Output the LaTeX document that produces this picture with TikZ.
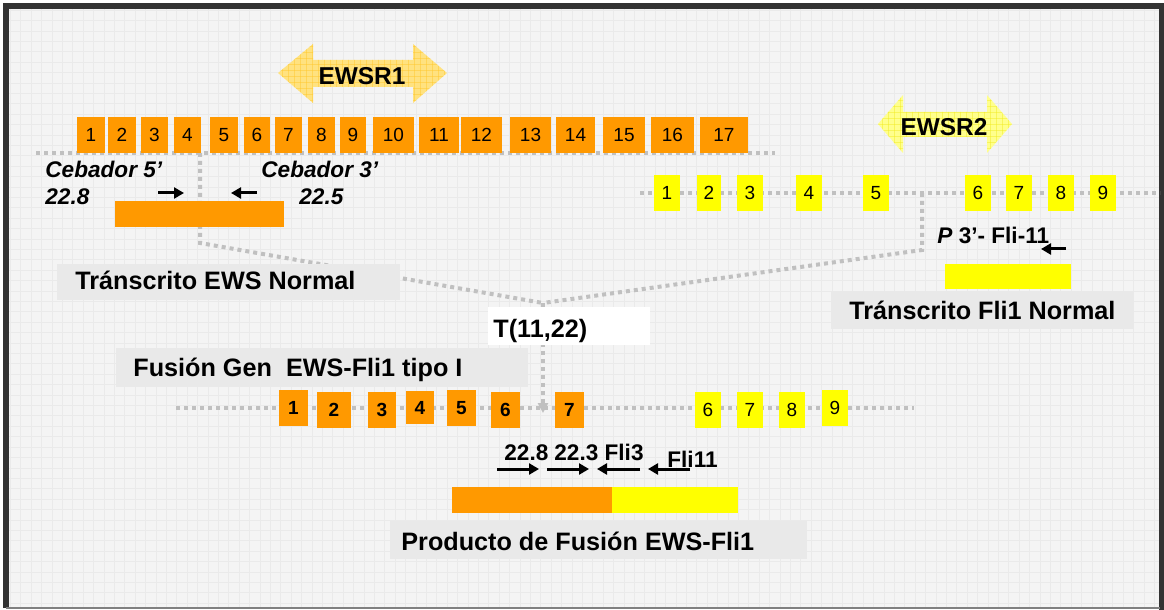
\documentclass[tikz,border=0pt]{standalone}
\usepackage{fontspec}
\setmainfont{Liberation Sans}
\usepackage{xcolor}
\usepackage{tikz}
\usetikzlibrary{positioning, arrows.meta, patterns}
\newcommand{\PixelSize}{0.5pt}

\definecolor{exonorange}{RGB}{255,153,0}
\definecolor{exonyellow}{RGB}{255,255,0}
\definecolor{panelgray}{RGB}{244,244,244}
\definecolor{gridgray}{RGB}{234,234,234}
\definecolor{labelgray}{RGB}{233,233,233}
\definecolor{dotgray}{RGB}{192,192,192}
\definecolor{framegray}{RGB}{51,51,51}
\definecolor{ewsgold}{RGB}{255,226,128}
\definecolor{ewsgoldline}{RGB}{255,198,40}
\definecolor{flilemon}{RGB}{255,255,140}
\definecolor{flilemonline}{RGB}{240,235,30}

\tikzset{
  dotline/.style = {dotgray, line width=2pt, dash pattern=on 2pt off 2pt},
  exonbox/.style = {inner sep=0pt, font=\fontsize{9.5}{10}\selectfont},
  ewsexon/.style = {exonbox, fill=exonorange},
  fliexon/.style = {exonbox, fill=exonyellow},
  boldnum/.style = {font=\fontsize{9.5}{10}\selectfont\bfseries},
  labelbox/.style = {fill=labelgray, inner sep=0pt},
  labeltext/.style = {anchor=base west, inner sep=0pt, font=\fontsize{12.6}{14}\selectfont\bfseries},
  primertext/.style = {anchor=base west, inner sep=0pt, font=\fontsize{11.3}{13}\selectfont\bfseries},
  primer/.style = {line width=1.5pt, -{Triangle[length=5pt, width=5.5pt]}},
  genetext/.style = {inner sep=0pt, font=\fontsize{12.2}{14}\selectfont\bfseries},
  hatch/.style = {pattern=grid, pattern color=#1, opacity=0.45}
}

\begin{document}
\begin{tikzpicture}[x=\PixelSize, y=-\PixelSize]
    \useasboundingbox (0, 0) rectangle (1164, 610);

    % panel, grid and frame
    \fill[panelgray] (9, 9) rectangle (1159, 607);
    \draw[gridgray, line width=0.5pt, step=5.2pt] (9, 607) grid (1159, 9);
    \draw[framegray, line width=3pt] (6, 608) -- (6, 6) -- (1161.5, 6) -- (1161.5, 610);
    \draw[gray, line width=1pt] (6, 608) -- (1160, 608);


    % gene arrows
    \fill[ewsgold] (278, 73) -- (313, 44) -- (313, 60) -- (413, 60) -- (413, 44) -- (447, 73)
        -- (413, 103) -- (413, 87) -- (313, 87) -- (313, 103) -- cycle;
    \fill[hatch=ewsgoldline] (278, 73) -- (313, 44) -- (313, 60) -- (413, 60)
        -- (413, 44) -- (447, 73) -- (413, 103) -- (413, 87) -- (313, 87) -- (313, 103) -- cycle;
    \node[genetext] (ewsr1) at (362, 76) {EWSR1};

    \fill[flilemon] (878, 124) -- (903, 95) -- (903, 112) -- (987, 112) -- (987, 95) -- (1012, 124)
        -- (987, 153) -- (987, 137) -- (903, 137) -- (903, 153) -- cycle;
    \fill[hatch=flilemonline] (878, 124) -- (903, 95) -- (903, 112) -- (987, 112)
        -- (987, 95) -- (1012, 124) -- (987, 153) -- (987, 137) -- (903, 137) -- (903, 153) -- cycle;
    \node[genetext] (ewsr2) at (944, 127) {EWSR2};


    % chromosome lines
    \draw[dotline] (36, 153) -- (775, 153);
    \draw[dotline] (640, 193) -- (1160, 193);
    \draw[dotline] (176, 408) -- (914, 408);


    % breakpoints joining at the translocation
    \coordinate (ewscut) at (200, 153);
    \coordinate (ewsbend) at (200, 243);
    \coordinate (flicut) at (922, 193);
    \coordinate (flibend) at (922, 250);
    \coordinate (tjoin) at (543, 303);
    \coordinate (fusioncut) at (543, 413);

    \draw[dotline] (ewscut) -- (ewsbend) -- (tjoin);
    \draw[dotline] (flicut) -- (flibend) -- (tjoin);
    \draw[dotline, -{Triangle[length=5pt, width=5pt]}] (tjoin) -- (fusioncut);


    % EWSR1 exons
    \foreach \n/\a/\b in {1/77/105, 2/108/136, 3/141/168, 4/174/201, 5/210/238, 6/244/270,
                          7/275/302, 8/308/335, 9/340/366, 10/373/414, 11/419/459, 12/461/502,
                          13/510/551, 14/556/595, 15/603/645, 16/651/694, 17/700/748}
        \node[ewsexon, minimum width={(\b-\a)*\PixelSize}, minimum height=18pt]
            (ews\n) at ({(\a+\b)/2}, 135) {\n};

    % FLI1 exons
    \foreach \n/\a/\b in {1/654/680, 2/697/721, 3/737/763, 4/796/822, 5/863/889,
                          6/965/991, 7/1006/1032, 8/1048/1074, 9/1090/1116}
        \node[fliexon, minimum width={(\b-\a)*\PixelSize}, minimum height=18pt]
            (fli\n) at ({(\a+\b)/2}, 193) {\n};

    % fusion gene exons
    \foreach \n/\a/\b/\t/\u in {1/279/308/390/426, 2/317/351/392/428, 3/368/396/392/428,
                                4/406/434/391/424, 5/447/476/390/426, 6/491/520/392/428,
                                7/555/584/392/428}
        \node[ewsexon, boldnum, minimum width={(\b-\a)*\PixelSize}, minimum height={(\u-\t)*\PixelSize}]
            (fusews\n) at ({(\a+\b)/2}, {(\t+\u)/2}) {\n};
    \foreach \n/\a/\b/\t/\u in {6/695/721/392/428, 7/737/763/392/428, 8/779/805/392/428,
                                9/822/848/390/426}
        \node[fliexon, minimum width={(\b-\a)*\PixelSize}, minimum height={(\u-\t)*\PixelSize}]
            (fusfli\n) at ({(\a+\b)/2}, {(\t+\u)/2}) {\n};


    % normal EWS transcript and primers
    \node[fill=exonorange, minimum width=169*\PixelSize, minimum height=26*\PixelSize] (ewsbar) at (199.5, 214) {};
    \node[primertext] (cebador5) at (45, 178) {\itshape Cebador 5’};
    \node[primertext] (cebador5num) at (45, 205) {\itshape 22.8};
    \node[primertext] (cebador3) at (261, 178) {\itshape Cebador 3’};
    \node[primertext] (cebador3num) at (299, 205) {\itshape 22.5};
    \draw[primer] (158, 193) -- (184, 193);
    \draw[primer] (257, 193) -- (231, 193);

    \node[labelbox, minimum width=343*\PixelSize, minimum height=36*\PixelSize] (ewsnormal) at (228.5, 282) {};
    \node[labeltext] (ewsnormaltext) at (75, 290) {Tránscrito EWS Normal};


    % normal FLI1 transcript and probe
    \node[primertext] (fliprobe) at (937, 244) {{\itshape P} 3’- Fli-11};
    \draw[primer] (1066, 249) -- (1041, 249);
    \node[fill=exonyellow, minimum width=126*\PixelSize, minimum height=25*\PixelSize] (flibar) at (1008, 276.5) {};

    \node[labelbox, minimum width=303*\PixelSize, minimum height=38*\PixelSize] (flinormal) at (982.5, 310) {};
    \node[labeltext] (flinormaltext) at (849, 320) {Tránscrito Fli1 Normal};


    % translocation and fusion gene
    \node[fill=white, inner sep=0pt, minimum width=162*\PixelSize, minimum height=38*\PixelSize] (tbox) at (569, 326) {};
    \node[labeltext] (tboxtext) at (493, 337) {T(11,22)};

    \node[labelbox, minimum width=412*\PixelSize, minimum height=39*\PixelSize] (fusiongen) at (322, 367.5) {};
    \node[labeltext] (fusiongentext) at (133, 377) {Fusión Gen\ \ EWS-Fli1 tipo I};


    % fusion primers and product
    \node[primertext] (fusprimer1) at (504, 460) {22.8};
    \node[primertext] (fusprimer2) at (554, 460) {22.3 Fli3};
    \node[primertext] (fusprimer3) at (667, 467) {Fli11};
    \draw[primer] (497, 469) -- (539, 469);
    \draw[primer] (547, 469) -- (589, 469);
    \draw[primer] (640, 469) -- (597, 469);
    \draw[primer] (690, 469) -- (648, 469);

    \node[fill=exonorange, minimum width=160*\PixelSize, minimum height=26*\PixelSize] (fusbarews) at (532, 500) {};
    \node[fill=exonyellow, minimum width=126*\PixelSize, minimum height=26*\PixelSize] (fusbarfli) at (675, 500) {};

    \node[labelbox, minimum width=417*\PixelSize, minimum height=38*\PixelSize] (producto) at (598.5, 540) {};
    \node[labeltext] (productotext) at (401, 550) {Producto de Fusión EWS-Fli1};

\end{tikzpicture}
\end{document}
